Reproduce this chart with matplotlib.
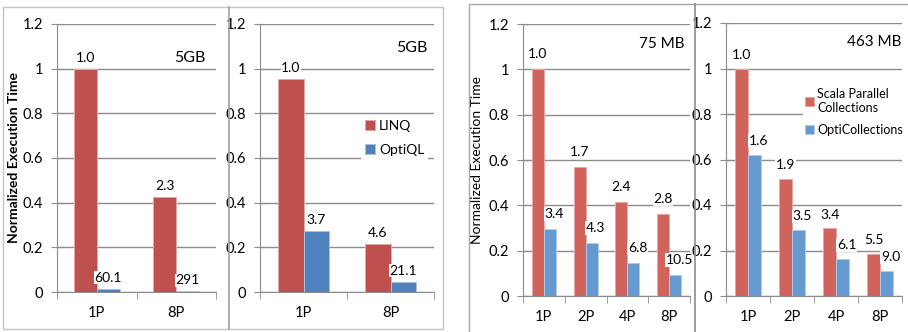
import numpy as np
import matplotlib
matplotlib.use("Agg")
import matplotlib.pyplot as plt
from matplotlib.lines import Line2D

plt.rcParams['font.family'] = ['Lato', 'DejaVu Sans']

W, H = 908, 332

# query benchmark (5GB), two data sets
q_cats = ["1P", "8P"]
q1_linq = [1.0, 0.427]
q1_optiql = [0.015, 0.003]
q1_linq_lbl = ["1.0", "2.3"]
q1_optiql_lbl = ["60.1", "291"]
q2_linq = [0.954, 0.213]
q2_optiql = [0.273, 0.046]
q2_linq_lbl = ["1.0", "4.6"]
q2_optiql_lbl = ["3.7", "21.1"]

# collections benchmark (75 MB / 463 MB)
c_cats = ["1P", "2P", "4P", "8P"]
c1_scala = [1.0, 0.570, 0.413, 0.360]
c1_opti = [0.294, 0.232, 0.144, 0.091]
c1_scala_lbl = ["1.0", "1.7", "2.4", "2.8"]
c1_opti_lbl = ["3.4", "4.3", "6.8", "10.5"]
c2_scala = [1.0, 0.514, 0.297, 0.184]
c2_opti = [0.62, 0.289, 0.162, 0.110]
c2_scala_lbl = ["1.0", "1.9", "3.4", "5.5"]
c2_opti_lbl = ["1.6", "3.5", "6.1", "9.0"]

yticks = [0, 0.2, 0.4, 0.6, 0.8, 1.0, 1.2]
ytick_lbls = ["0", "0.2", "0.4", "0.6", "0.8", "1", "1.2"]

fig = plt.figure(figsize=(W / 100, H / 100), dpi=100)


def px_axes(x0, y0, x1, y1):
    return fig.add_axes([x0 / W, 1 - y1 / H, (x1 - x0) / W, (y1 - y0) / H])


def px_line(xs, ys, color, lw=1.0):
    fig.add_artist(Line2D([x / W for x in xs], [1 - y / H for y in ys],
                          color=color, lw=lw, transform=fig.transFigure))


def panel(ax, cats, a, b, a_lbl, b_lbl, ca, cb, ea, eb, off, dx):
    x = np.arange(len(cats))
    w = 0.29
    ax.bar(x - w / 2, a, w, color=ca, edgecolor=ea, linewidth=0.7, zorder=3)
    ax.bar(x + w / 2, b, w, color=cb, edgecolor=eb, linewidth=0.7, zorder=3)
    for i in range(len(cats)):
        ax.annotate(a_lbl[i], (x[i] - w / 2, a[i]), xytext=(0, off),
                    textcoords="offset points", ha="center", va="center",
                    fontsize=10, zorder=4,
                    bbox=dict(facecolor="white", edgecolor="none", pad=0.5))
        ax.annotate(b_lbl[i], (x[i] + w / 2, b[i]), xytext=(dx, off),
                    textcoords="offset points", ha="center", va="center",
                    fontsize=10, zorder=4,
                    bbox=dict(facecolor="white", edgecolor="none", pad=0.5))
    ax.set_xlim(-0.5, len(cats) - 0.5)
    ax.set_ylim(0, 1.2)
    ax.set_yticks(yticks)
    ax.set_yticklabels(ytick_lbls, fontsize=10.5)
    ax.set_xticks(x)
    ax.set_xticklabels(cats, fontsize=10.5)
    ax.set_xticks(np.arange(len(cats) + 1) - 0.5, minor=True)
    ax.tick_params(axis="x", which="major", length=0, pad=10)
    ax.tick_params(axis="x", which="minor", length=5, direction="out",
                   color="#8c8c8c")
    ax.tick_params(axis="y", length=8, direction="inout", color="#8c8c8c",
                   pad=6)
    ax.grid(axis="y", color="#8c8c8c", lw=1.0, zorder=0)
    ax.set_axisbelow(True)
    for s in ["top", "right"]:
        ax.spines[s].set_visible(False)
    for s in ["left", "bottom"]:
        ax.spines[s].set_color("#8c8c8c")
    ax.set_facecolor("none")


red1, blue1 = "#C0504D", "#4F81BD"
red2, blue2 = "#D0635C", "#6699CF"

ax1 = px_axes(57, 24, 216, 292)
panel(ax1, q_cats, q1_linq, q1_optiql, q1_linq_lbl, q1_optiql_lbl,
      red1, blue1, "#e3a9a7", "#a9c1de", 8, 0)
ax1.text(0.836, 0.873, "5GB", transform=ax1.transAxes, ha="center",
         va="center", fontsize=11.5)
ax1.set_ylabel("Normalized Execution Time", fontsize=10, fontweight="bold",
               labelpad=2)

ax2 = px_axes(260, 24, 434, 292)
panel(ax2, q_cats, q2_linq, q2_optiql, q2_linq_lbl, q2_optiql_lbl,
      red1, blue1, "#e3a9a7", "#a9c1de", 8, 0)
ax2.text(0.874, 0.910, "5GB", transform=ax2.transAxes, ha="center",
         va="center", fontsize=11.5)
ax2.legend(["LINQ", "OptiQL"], loc="center left",
           bbox_to_anchor=(0.54, 0.575), frameon=True, facecolor="white",
           edgecolor="none", framealpha=1, fontsize=10, handlelength=0.7,
           handleheight=0.7, handletextpad=0.3, labelspacing=0.9,
           borderpad=0.3, fancybox=False)

ax3 = px_axes(523, 24, 690, 296)
panel(ax3, c_cats, c1_scala, c1_opti, c1_scala_lbl, c1_opti_lbl,
      red2, blue2, "#eba8a4", "#b0cbe8", 11, 3)
ax3.text(0.832, 0.925, "75 MB", transform=ax3.transAxes, ha="center",
         va="center", fontsize=11)
ax3.set_ylabel("Normalized Execution Time", fontsize=10, labelpad=4)

ax4 = px_axes(726, 23, 902, 296)
panel(ax4, c_cats, c2_scala, c2_opti, c2_scala_lbl, c2_opti_lbl,
      red2, blue2, "#eba8a4", "#b0cbe8", 10, 3)
ax4.text(0.841, 0.929, "463 MB", transform=ax4.transAxes, ha="center",
         va="center", fontsize=11)
ax4.legend(["Scala Parallel\nCollections", "OptiCollections"],
           loc="center left", bbox_to_anchor=(0.40, 0.674), frameon=True,
           facecolor="white", edgecolor="none", framealpha=1, fontsize=9,
           handlelength=0.7, handleheight=0.7, handletextpad=0.25,
           labelspacing=0.8, borderpad=0.2, fancybox=False)

# frames around the two figure groups
px_line([3, 443, 443, 3, 3], [7, 7, 329, 329, 7], "#c4c4c4")
px_line([229, 229], [7, 329], "#a0a0a0", 1.2)
px_line([469, 469, 908], [332, 4, 4], "#a8a8a8")
px_line([695, 695], [4, 332], "#8c8c8c", 1.2)

fig.savefig("out.png", dpi=100)
